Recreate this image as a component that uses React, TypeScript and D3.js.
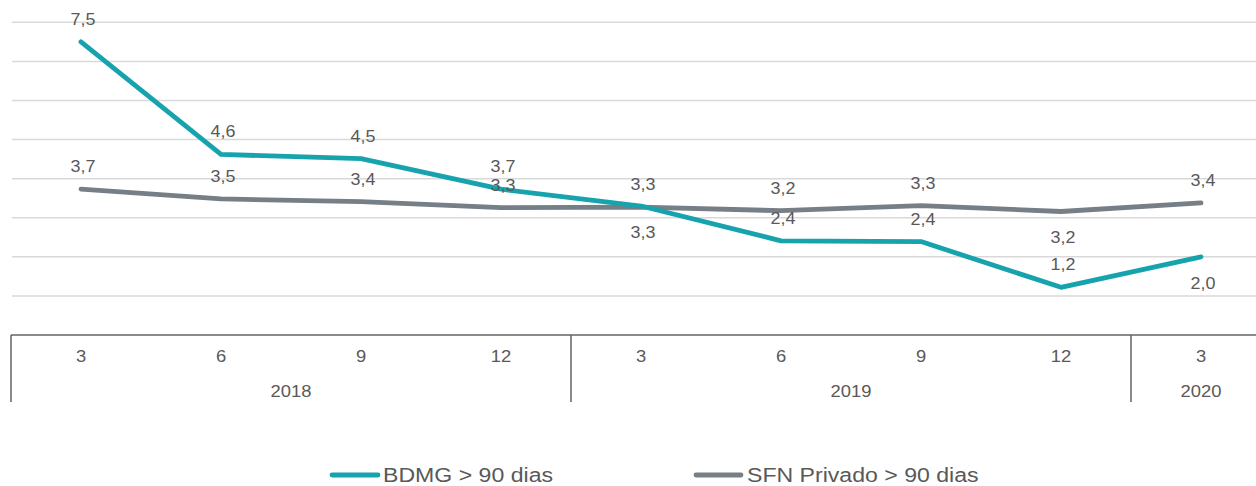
import React from "react";
import * as d3 from "d3";

const months = ["3", "6", "9", "12", "3", "6", "9", "12", "3"];
const years = [
  { label: "2018", start: 0, end: 4 },
  { label: "2019", start: 4, end: 8 },
  { label: "2020", start: 8, end: 9 },
];
const bdmg = [7.5, 4.62, 4.51, 3.73, 3.3, 2.41, 2.39, 1.22, 2.0];
const sfn = [3.73, 3.48, 3.41, 3.26, 3.27, 3.18, 3.31, 3.16, 3.38];
const bdmgLabels = ["7,5", "4,6", "4,5", "3,7", "3,3", "2,4", "2,4", "1,2", "2,0"];
const sfnLabels = ["3,7", "3,5", "3,4", "3,3", "3,3", "3,2", "3,3", "3,2", "3,4"];
const bdmgPlace = ["a", "a", "a", "a", "b", "a", "a", "a", "b"];
const sfnPlace = ["a", "a", "a", "a", "a", "a", "a", "b", "a"];
const yTicks = [1, 2, 3, 4, 5, 6, 7, 8];

const W = 1256;
const H = 486;
const TEAL = "#17a3ad";
const GRAY = "#767e86";
const TXT = "#595959";

function SText({ x, y, sx, size, anchor = "middle", fill = TXT, children }: any) {
  return (
    <text
      transform={`translate(${x},${y}) scale(${sx},1)`}
      textAnchor={anchor}
      fontSize={size}
      fill={fill}
      fontFamily="'Liberation Sans', Arial, sans-serif"
    >
      {children}
    </text>
  );
}

export default function App() {
  const band = d3
    .scaleBand<number>()
    .domain(d3.range(months.length))
    .range([11, 11 + 140 * months.length])
    .padding(0);
  const cx = (i: number) => (band(i) as number) + band.bandwidth() / 2;
  const y = d3.scaleLinear().domain([0, 8]).range([335, 22.3]);
  const line = d3
    .line<number>()
    .x((_, i) => cx(i))
    .y((d) => y(d));

  const labelY = (v: number, p: string) => (p === "a" ? y(v) - 17 : y(v) + 32);

  return (
    <svg width={W} height={H} style={{ position: "absolute", left: 0, top: 0, background: "#fff" }}>
      {yTicks.map((t) => (
        <line key={t} x1={12} x2={W} y1={y(t)} y2={y(t)} stroke="#d9d9d9" strokeWidth={1.5} />
      ))}
      {/* axis */}
      <line x1={11} x2={W} y1={y(0)} y2={y(0)} stroke="#5f6368" strokeWidth={1.5} />
      {years.map((yr) => (
        <line
          key={"s" + yr.label}
          x1={band(yr.start) as number}
          x2={band(yr.start) as number}
          y1={y(0)}
          y2={402}
          stroke="#5f6368"
          strokeWidth={1.5}
        />
      ))}
      {months.map((m, i) => (
        <SText key={"m" + i} x={cx(i)} y={362} sx={1.15} size={16}>
          {m}
        </SText>
      ))}
      {years.map((yr) => {
        const x0 = band(yr.start) as number;
        const x1 = (band(yr.end - 1) as number) + band.bandwidth();
        return (
          <SText key={"y" + yr.label} x={(x0 + x1) / 2} y={397} sx={1.15} size={16}>
            {yr.label}
          </SText>
        );
      })}
      <path d={line(sfn) || ""} fill="none" stroke={GRAY} strokeWidth={4.8} strokeLinejoin="round" strokeLinecap="round" />
      <path d={line(bdmg) || ""} fill="none" stroke={TEAL} strokeWidth={4.8} strokeLinejoin="round" strokeLinecap="round" />
      {sfn.map((v, i) => (
        <SText key={"ls" + i} x={cx(i) + 2} y={labelY(v, sfnPlace[i])} sx={1.12} size={16}>
          {sfnLabels[i]}
        </SText>
      ))}
      {bdmg.map((v, i) => (
        <SText key={"lb" + i} x={cx(i) + 2} y={labelY(v, bdmgPlace[i])} sx={1.12} size={16}>
          {bdmgLabels[i]}
        </SText>
      ))}
      {/* legend */}
      <line x1={332} x2={378} y1={475} y2={475} stroke={TEAL} strokeWidth={4.8} strokeLinecap="round" />
      <SText x={383} y={482} sx={1.1} size={21} anchor="start">
        BDMG &gt; 90 dias
      </SText>
      <line x1={696} x2={741} y1={475} y2={475} stroke={GRAY} strokeWidth={4.8} strokeLinecap="round" />
      <SText x={747} y={482} sx={1.1} size={21} anchor="start">
        SFN Privado &gt; 90 dias
      </SText>
    </svg>
  );
}
